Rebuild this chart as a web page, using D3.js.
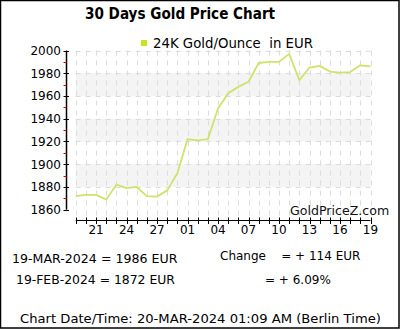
<!DOCTYPE html>
<html><head><meta charset="utf-8">
<script src="https://cdn.jsdelivr.net/npm/d3@7"></script>
<style>body{margin:0;background:#fff}svg{display:block}text{font-family:"DejaVu Sans",Verdana,sans-serif;white-space:pre}</style>
</head><body><div id="c"></div>
<script>
const dates = ["2024-02-19","2024-02-20","2024-02-21","2024-02-22","2024-02-23","2024-02-24","2024-02-25","2024-02-26","2024-02-27","2024-02-28","2024-02-29","2024-03-01","2024-03-02","2024-03-03","2024-03-04","2024-03-05","2024-03-06","2024-03-07","2024-03-08","2024-03-09","2024-03-10","2024-03-11","2024-03-12","2024-03-13","2024-03-14","2024-03-15","2024-03-16","2024-03-17","2024-03-18","2024-03-19"];
const prices = [1872,1873,1873,1869,1882,1879,1880,1872,1871.5,1877,1892,1922,1921,1922,1949,1962.5,1968,1972.5,1989,1990,1990,1997,1974,1985,1986.5,1981.5,1980.5,1981,1987,1986];
const yTicks = [1860,1880,1900,1920,1940,1960,1980,2000];
const yMinor = [1870,1890,1910,1930,1950,1970,1990];
const bands = [[1880,1900],[1920,1940],[1960,1980]];
const xTickDates = ["2024-02-21","2024-02-24","2024-02-27","2024-03-01","2024-03-04","2024-03-07","2024-03-10","2024-03-13","2024-03-16","2024-03-19"];
const title = "30 Days Gold Price Chart";
const legendLabel = "24K Gold/Ounce  in EUR";
const infoLines = ["19-MAR-2024 = 1986 EUR","19-FEB-2024 = 1872 EUR"];
const changeLines = ["Change    = + 114 EUR","= + 6.09%"];
const footer = "Chart Date/Time: 20-MAR-2024 01:09 AM (Berlin Time)";
const watermark = "GoldPriceZ.com";

const W=400,H=330;
const parse = d3.utcParse("%Y-%m-%d");
const data = dates.map((d,i)=>({d:parse(d),v:prices[i]}));
const svg = d3.select("#c").append("svg").attr("width",W).attr("height",H);
svg.append("rect").attr("x",0.5).attr("y",0.5).attr("width",W-1.5).attr("height",H-2.5)
  .attr("fill","#fff").attr("stroke","#000").attr("stroke-width",1.5);

const x = d3.scaleUtc().domain([data[0].d,data[data.length-1].d]).range([75.7,370.5]);
const y = d3.scaleLinear().domain([1860,2000]).range([209.7,50.5]);

svg.selectAll(".band").data(bands).join("rect")
  .attr("x",x.range()[0]).attr("width",x.range()[1]-x.range()[0])
  .attr("y",d=>y(d[1])).attr("height",d=>y(d[0])-y(d[1])).attr("fill","#f4f4f4");
svg.selectAll(".vg").data(data).join("line")
  .attr("x1",d=>Math.round(x(d.d))+0.5).attr("x2",d=>Math.round(x(d.d))+0.5)
  .attr("y1",y(2000)).attr("y2",220).attr("stroke","#dcdcdc").attr("stroke-dasharray","5,5");
svg.selectAll(".hg").data(yTicks.slice(1)).join("line")
  .attr("x1",x.range()[0]).attr("x2",x.range()[1])
  .attr("y1",d=>Math.round(y(d))+0.5).attr("y2",d=>Math.round(y(d))+0.5)
  .attr("stroke","#dcdcdc").attr("stroke-dasharray","5,5");

const ya = svg.append("g");
ya.append("line").attr("x1",66.5).attr("x2",66.5).attr("y1",y(2000)).attr("y2",y(1860)).attr("stroke","#000").attr("stroke-width",1.5);
ya.selectAll(".mt").data(yTicks).join("line").attr("x1",63.5).attr("x2",69)
  .attr("y1",d=>Math.round(y(d))+0.5).attr("y2",d=>Math.round(y(d))+0.5).attr("stroke","#000");
ya.selectAll(".mn").data(yMinor).join("line").attr("x1",63.5).attr("x2",66.5)
  .attr("y1",d=>Math.round(y(d))+0.5).attr("y2",d=>Math.round(y(d))+0.5).attr("stroke","#e00000");
ya.selectAll("text").data(yTicks).join("text").attr("x",61).attr("y",d=>y(d)+4.5)
  .attr("text-anchor","end").attr("font-size",12).text(d=>d);

const xa = svg.append("g");
xa.append("line").attr("x1",x.range()[0]).attr("x2",x.range()[1]).attr("y1",220.5).attr("y2",220.5).attr("stroke","#000").attr("stroke-width",1.2);
xa.selectAll(".xt").data(data).join("line")
  .attr("x1",d=>Math.round(x(d.d))+0.5).attr("x2",d=>Math.round(x(d.d))+0.5)
  .attr("y1",217.5).attr("y2",224).attr("stroke","#000");
xa.selectAll("text").data(xTickDates).join("text").attr("x",d=>x(parse(d))).attr("y",234)
  .attr("text-anchor","middle").attr("font-size",12).text(d=>d3.utcFormat("%d")(parse(d)));

svg.append("path").datum(data).attr("fill","none").attr("stroke","#cfe36a").attr("stroke-width",1.8)
  .attr("stroke-linejoin","round")
  .attr("d",d3.line().x(d=>x(d.d)).y(d=>y(d.v)));

svg.append("text").attr("x",85).attr("y",19).attr("font-size",15.1).attr("font-weight","bold")
  .style("font-family","'DejaVu Sans Condensed','DejaVu Sans',sans-serif").text(title);
svg.append("rect").attr("x",141).attr("y",40).attr("width",6).attr("height",6).attr("fill","#c5e31e");
svg.append("text").attr("x",153).attr("y",48).attr("font-size",13.3).text(legendLabel);

svg.append("text").attr("x",290).attr("y",215).attr("font-size",12.6).attr("fill","#111").text(watermark);

svg.append("text").attr("x",12).attr("y",263).attr("font-size",12.6).text(infoLines[0]);
svg.append("text").attr("x",16).attr("y",284).attr("font-size",12.4).text(infoLines[1]);
svg.append("text").attr("x",220).attr("y",260).attr("font-size",12).text(changeLines[0]);
svg.append("text").attr("x",265).attr("y",284).attr("font-size",12).text(changeLines[1]);
svg.append("text").attr("x",20).attr("y",323).attr("font-size",13.15).text(footer);
</script></body></html>
